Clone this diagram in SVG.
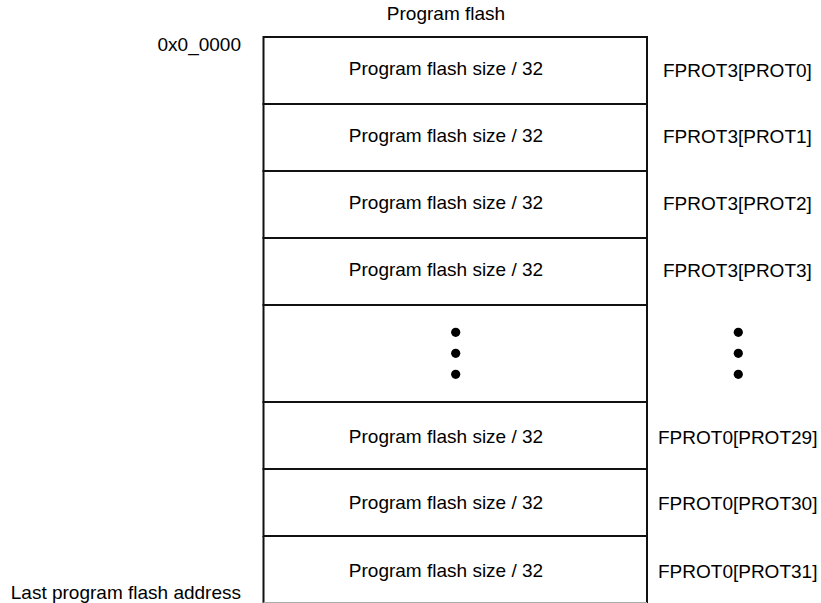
<svg xmlns="http://www.w3.org/2000/svg" width="821" height="603" viewBox="0 0 821 603">
<style>
.t{font-family:"Liberation Sans",Arial,sans-serif;font-size:19px;fill:#000}
.c{text-anchor:middle}
.r{text-anchor:end}
.box{fill:#fff;stroke:#111;stroke-width:2}
.dot{fill:#000}
</style>
<rect width="821" height="603" fill="#fff"/>
<text class="t c" x="446" y="20">Program flash</text>
<text class="t r" x="241" y="51">0x0_0000</text>
<text class="t r" x="241" y="599">Last program flash address</text>
<g id="row0"><rect class="box" x="263.5" y="37" width="383.5" height="67"/><text class="t c" x="446" y="75">Program flash size / 32</text><text class="t" x="663" y="77">FPROT3[PROT0]</text></g>
<g id="row1"><rect class="box" x="263.5" y="104" width="383.5" height="67"/><text class="t c" x="446" y="142">Program flash size / 32</text><text class="t" x="663" y="143">FPROT3[PROT1]</text></g>
<g id="row2"><rect class="box" x="263.5" y="171" width="383.5" height="67"/><text class="t c" x="446" y="209">Program flash size / 32</text><text class="t" x="663" y="210">FPROT3[PROT2]</text></g>
<g id="row3"><rect class="box" x="263.5" y="238" width="383.5" height="67"/><text class="t c" x="446" y="276">Program flash size / 32</text><text class="t" x="663" y="277">FPROT3[PROT3]</text></g>
<g id="rowdots"><rect class="box" x="263.5" y="305" width="383.5" height="97"/>
<circle class="dot" cx="455.7" cy="332.3" r="4.6"/><circle class="dot" cx="455.7" cy="353.3" r="4.6"/><circle class="dot" cx="455.7" cy="374.3" r="4.6"/>
<circle class="dot" cx="738.3" cy="332.3" r="4.6"/><circle class="dot" cx="738.3" cy="353.3" r="4.6"/><circle class="dot" cx="738.3" cy="374.3" r="4.6"/></g>
<g id="row29"><rect class="box" x="263.5" y="402" width="383.5" height="67"/><text class="t c" x="446" y="443">Program flash size / 32</text><text class="t" x="658" y="444">FPROT0[PROT29]</text></g>
<g id="row30"><rect class="box" x="263.5" y="469" width="383.5" height="67"/><text class="t c" x="446" y="509">Program flash size / 32</text><text class="t" x="658" y="510">FPROT0[PROT30]</text></g>
<g id="row31"><path d="M263.5 536H647M263.5 536V603M647 536V603" fill="none" stroke="#111" stroke-width="2"/><line x1="263.5" y1="602.5" x2="647" y2="602.5" stroke="#aaa" stroke-width="1"/><text class="t c" x="446" y="577">Program flash size / 32</text><text class="t" x="658" y="578">FPROT0[PROT31]</text></g>
<g id="connectors"/>
</svg>
